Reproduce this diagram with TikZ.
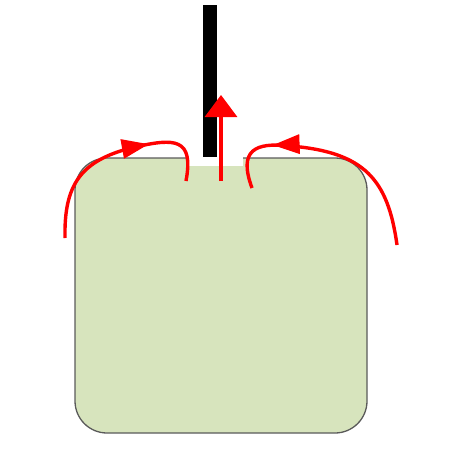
\documentclass[tikz,border=0pt]{standalone}
\usetikzlibrary{arrows.meta,decorations.markings}
\definecolor{boxfill}{HTML}{D7E4BD}
\definecolor{boxline}{HTML}{5A5A5A}
\begin{document}
\begin{tikzpicture}[x=1pt,y=-1pt,
  flow/.style={draw=red,line width=3.4pt},
  head/.style={-{Triangle[length=22pt,width=32pt]}},
  midhead/.style={postaction={decorate},decoration={markings,mark=at position #1 with {\arrow{Triangle[length=27pt,width=19pt]}}}}]
\useasboundingbox (0,0) rectangle (450,450);
% box
\fill[boxfill,rounded corners=32pt] (75,158) rectangle (367,433);
\fill[white] (186,156) rectangle (243,166);
\draw[boxline,line width=1.3pt,rounded corners=32pt] (186,158) -- (75,158) -- (75,433) -- (367,433) -- (367,158) -- (243,158);
% rod
\fill[black] (203,5) rectangle (217,157);
% arrows
\coordinate (c0) at (221,181);
\coordinate (c1) at (221,95);
\draw[flow,red,head] (c0) -- (c1);
\coordinate (l0) at (65,238);
\coordinate (l1) at (186,181);
\draw[flow,red,midhead=0.67] (l0) .. controls (64,185) and (80,160) .. (135,147) .. controls (175,138) and (194,138) .. (l1);
\coordinate (r0) at (397,245);
\coordinate (r1) at (252,188);
\draw[flow,red,midhead=0.75] (r0) .. controls (388,180) and (365,152) .. (290,146) .. controls (255,142) and (238,150) .. (r1);
\end{tikzpicture}
\end{document}
